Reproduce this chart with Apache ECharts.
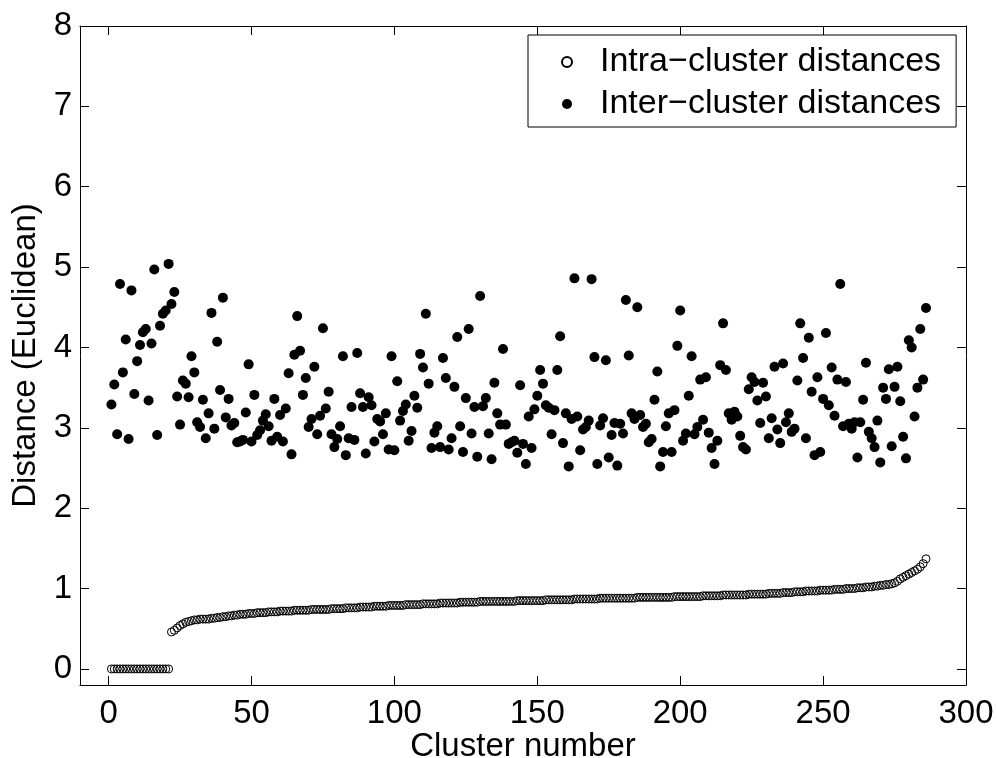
<!DOCTYPE html>
<html>
<head>
<meta charset="utf-8">
<script src="https://cdn.jsdelivr.net/npm/echarts@6.0.0/dist/echarts.min.js"></script>
<style>
html,body{margin:0;padding:0;background:#fff;}
#chart{width:997px;height:758px;}
</style>
</head>
<body>
<div id="chart"></div>
<script>
var xTicks = [0, 50, 100, 150, 200, 250, 300];
var yTicks = [0, 1, 2, 3, 4, 5, 6, 7, 8];
var seriesNames = ['Intra\u2212cluster distances', 'Inter\u2212cluster distances'];

var intraValues = [
0,0,0,0,0,0,0,0,0,0,
0,0,0,0,0,0,0,0,0,0,
0,0.46,0.48,0.51,0.54,0.56,0.58,0.59,0.60,0.61,
0.61,0.62,0.62,0.62,0.62,0.63,0.63,0.64,0.64,0.65,
0.65,0.66,0.66,0.67,0.67,0.68,0.68,0.68,0.69,0.69,
0.69,0.70,0.70,0.70,0.70,0.71,0.71,0.71,0.71,0.72,
0.72,0.72,0.72,0.72,0.73,0.73,0.73,0.73,0.73,0.73,
0.74,0.74,0.74,0.74,0.74,0.74,0.74,0.75,0.75,0.75,
0.75,0.75,0.76,0.76,0.76,0.76,0.76,0.77,0.77,0.77,
0.77,0.77,0.78,0.78,0.78,0.78,0.78,0.79,0.79,0.79,
0.79,0.79,0.79,0.80,0.80,0.80,0.80,0.80,0.80,0.81,
0.81,0.81,0.81,0.81,0.81,0.82,0.82,0.82,0.82,0.82,
0.82,0.82,0.83,0.83,0.83,0.83,0.83,0.83,0.83,0.84,
0.84,0.84,0.84,0.84,0.84,0.84,0.84,0.84,0.84,0.84,
0.84,0.84,0.85,0.85,0.85,0.85,0.85,0.85,0.85,0.85,
0.85,0.85,0.86,0.86,0.86,0.86,0.86,0.86,0.86,0.86,
0.86,0.86,0.87,0.87,0.87,0.87,0.87,0.87,0.87,0.87,
0.87,0.88,0.88,0.88,0.88,0.88,0.88,0.88,0.88,0.88,
0.88,0.88,0.88,0.88,0.89,0.89,0.89,0.89,0.89,0.89,
0.89,0.89,0.89,0.89,0.89,0.89,0.89,0.90,0.90,0.90,
0.90,0.90,0.90,0.90,0.90,0.90,0.90,0.91,0.91,0.91,
0.91,0.91,0.91,0.91,0.92,0.92,0.92,0.92,0.92,0.92,
0.92,0.92,0.92,0.93,0.93,0.93,0.93,0.93,0.93,0.93,
0.94,0.94,0.94,0.94,0.94,0.95,0.95,0.95,0.95,0.96,
0.96,0.96,0.96,0.97,0.97,0.97,0.97,0.97,0.98,0.98,
0.98,0.98,0.98,0.99,0.99,0.99,0.99,1.00,1.00,1.00,
1.00,1.01,1.01,1.01,1.02,1.02,1.02,1.03,1.03,1.04,
1.04,1.05,1.05,1.06,1.07,1.09,1.12,1.14,1.16,1.18,
1.20,1.22,1.24,1.27,1.31,1.37
];

var interValues = [
3.29,3.54,2.92,4.79,3.69,4.10,2.86,4.71,3.42,3.83,
4.03,4.19,4.23,3.34,4.05,4.97,2.91,4.27,4.42,4.46,
5.04,4.54,4.69,3.39,3.04,3.59,3.55,3.38,3.89,3.69,
3.07,3.01,3.35,2.87,3.18,4.43,2.99,4.07,3.47,4.62,
3.13,3.36,3.03,3.06,2.82,2.83,2.85,3.19,3.79,2.83,
3.41,2.91,2.97,3.09,3.17,3.02,2.84,3.36,2.89,3.16,
2.83,3.24,3.68,2.67,3.91,4.39,3.96,3.41,3.62,3.01,
3.11,3.76,2.92,3.15,4.24,3.24,3.45,2.92,2.76,2.86,
3.02,3.89,2.66,2.87,3.26,2.85,3.93,3.43,3.26,2.68,
3.38,3.28,2.83,3.11,3.08,2.92,3.18,2.73,3.89,2.72,
3.58,3.09,3.21,3.29,2.84,2.96,3.40,3.25,3.92,3.75,
4.42,3.55,2.75,2.94,3.02,2.76,3.87,3.62,2.73,2.87,
3.51,4.13,3.02,2.70,3.37,4.23,2.93,3.26,2.64,4.64,
3.27,3.37,2.93,2.61,3.56,3.18,3.04,3.98,3.04,2.80,
2.82,2.84,2.69,3.53,2.80,2.55,3.14,2.75,3.23,3.40,
3.72,3.55,3.28,3.25,2.92,3.22,3.72,4.14,2.81,3.18,
2.52,3.11,4.86,3.14,2.72,2.98,3.01,3.09,4.85,3.88,
2.55,3.03,3.12,3.84,2.63,2.91,3.06,2.53,3.05,2.93,
4.59,3.90,3.18,3.11,4.50,3.16,3.01,3.05,2.82,2.86,
3.35,3.70,2.52,2.70,3.02,3.18,2.70,3.22,4.02,4.46,
2.84,2.93,3.40,3.89,2.92,3.01,3.60,3.10,3.63,2.94,
2.75,2.55,2.84,3.78,4.30,3.72,3.18,3.10,3.20,3.14,
2.90,2.76,2.73,3.48,3.63,3.57,3.34,3.06,3.56,3.39,
2.87,3.12,3.76,2.98,2.81,3.80,3.07,3.18,2.95,2.99,
3.59,4.30,3.87,2.87,4.12,3.45,2.66,3.63,2.70,3.36,
4.18,3.28,3.75,3.15,3.60,4.79,3.02,3.57,3.05,2.99,
3.07,2.63,3.07,3.35,3.81,2.95,2.87,2.76,3.09,2.57,
3.50,3.36,3.73,2.77,3.51,3.76,3.33,2.89,2.62,4.09,
4.00,3.14,3.50,4.23,3.60,4.49
];

function toPoints(arr) {
  return arr.map(function (v, i) { return [i + 1, v]; });
}

var FONT = '"Liberation Sans", Arial, Helvetica, sans-serif';
var chart = echarts.init(document.getElementById('chart'), null, {renderer: 'canvas'});

function axisLineDef() {
  return {show: true, onZero: false, lineStyle: {color: '#000', width: 1}};
}
function xAxisDef(pos, withLabels) {
  return {
    type: 'value', position: pos, min: -10, max: 300,
    name: withLabels ? 'Cluster number' : '',
    nameLocation: 'middle', nameGap: 45, nameMoveOverlap: false,
    nameTextStyle: {fontFamily: FONT, fontSize: 33, color: '#000'},
    axisLine: axisLineDef(),
    axisTick: {show: true, inside: true, length: 9, customValues: xTicks, lineStyle: {color: '#000', width: 1}},
    axisLabel: {show: withLabels, customValues: xTicks, margin: 12, fontFamily: FONT, fontSize: 33, color: '#000'},
    splitLine: {show: false}
  };
}
function yAxisDef(pos, withLabels) {
  return {
    type: 'value', position: pos, min: -0.2, max: 8,
    name: withLabels ? 'Distance (Euclidean)' : '',
    nameLocation: 'middle', nameGap: 38, nameRotate: 90, nameMoveOverlap: false,
    nameTextStyle: {fontFamily: FONT, fontSize: 33, color: '#000'},
    axisLine: axisLineDef(),
    axisTick: {show: true, inside: true, length: 9, customValues: yTicks, lineStyle: {color: '#000', width: 1}},
    axisLabel: {show: withLabels, customValues: yTicks, margin: 8, fontFamily: FONT, fontSize: 33, color: '#000'},
    splitLine: {show: false}
  };
}

chart.setOption({
  animation: false,
  backgroundColor: '#fff',
  grid: {left: 80, right: 31, top: 26, bottom: 73, containLabel: false, outerBoundsMode: 'none'},
  xAxis: [xAxisDef('bottom', true), xAxisDef('top', false)],
  yAxis: [yAxisDef('left', true), yAxisDef('right', false)],
  legend: {
    orient: 'vertical', left: 528, top: 35,
    padding: [9, 15, 5, 33],
    itemWidth: 56, itemHeight: 10, itemGap: 6,
    borderColor: '#000', borderWidth: 1, backgroundColor: '#fff',
    textStyle: {fontFamily: FONT, fontSize: 34, color: '#000', lineHeight: 36},
    data: seriesNames
  },
  series: [
    {
      name: seriesNames[0], type: 'scatter', xAxisIndex: 0, yAxisIndex: 0,
      symbol: 'circle', symbolSize: 8,
      itemStyle: {color: 'rgba(255,255,255,0)', borderColor: '#000', borderWidth: 1, opacity: 1},
      data: toPoints(intraValues), z: 2
    },
    {
      name: seriesNames[1], type: 'scatter', xAxisIndex: 0, yAxisIndex: 0,
      symbol: 'circle', symbolSize: 10,
      itemStyle: {color: '#000', opacity: 1},
      data: toPoints(interValues), z: 3
    }
  ]
});
</script>
</body>
</html>
